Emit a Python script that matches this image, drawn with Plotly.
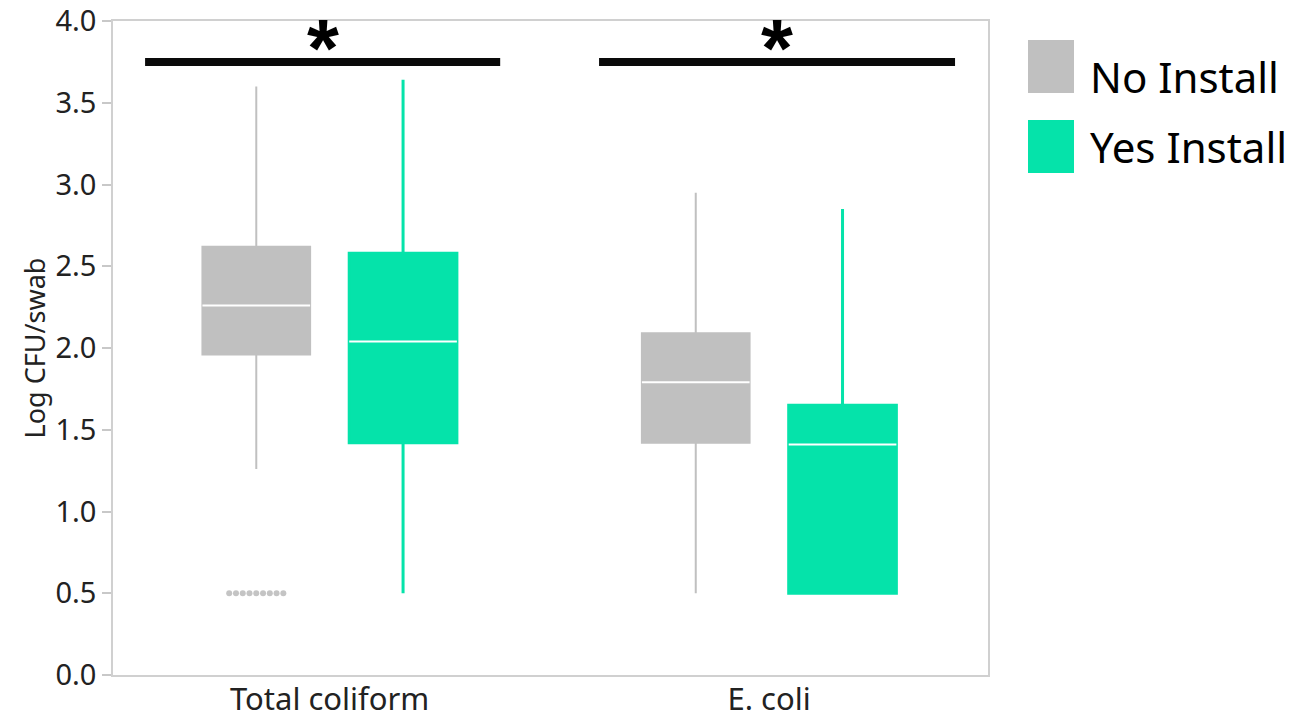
import plotly.graph_objects as go

# Categories and groups
categories = ["Total coliform", "E. coli"]
groups = ["No Install", "Yes Install"]

# Box summaries (Log CFU/swab) for the "No Install" group, per category
no_q1 = [1.96, 1.42]
no_median = [2.26, 1.79]
no_q3 = [2.62, 2.09]
no_lower = [1.26, 0.50]
no_upper = [3.60, 2.95]

# Box summaries for the "Yes Install" group, per category
yes_q1 = [1.42, 0.50]
yes_median = [2.04, 1.41]
yes_q3 = [2.58, 1.65]
yes_lower = [0.50, 0.50]
yes_upper = [3.64, 2.85]

# Outlying observations below the lower whisker (No Install, Total coliform)
no_outliers_total = [0.50, 0.50, 0.50, 0.50, 0.50, 0.50, 0.50, 0.50, 0.50]

# Significance marks drawn above each category
sig_labels = ["*", "*"]

GRAY = "#c0c0c0"
TEAL = "#05e3aa"
FONT = "Noto Sans"

W, H = 1316, 719
M_L, M_R, M_T, M_B = 113, 328, 21, 44

cat_pos = [0, 1]
offset = 0.167
box_w = 0.245

fig = go.Figure()


def add_group(name, q1, med, q3, lo, hi, color, lw, sign):
    xs = [p + sign * offset for p in cat_pos]
    fig.add_trace(go.Box(
        name=name, x=xs, q1=q1, median=med, q3=q3,
        lowerfence=lo, upperfence=hi,
        width=box_w, whiskerwidth=0,
        fillcolor=color, line=dict(color=color, width=lw),
        boxpoints=False, showlegend=False, hoverinfo="skip",
    ))
    # white median line across each box
    mx, my = [], []
    for x, m in zip(xs, med):
        mx += [x - box_w / 2, x + box_w / 2, None]
        my += [m, m, None]
    fig.add_trace(go.Scatter(
        x=mx, y=my, mode="lines", line=dict(color="white", width=2),
        showlegend=False, hoverinfo="skip",
    ))
    return xs


no_x = add_group(groups[0], no_q1, no_median, no_q3, no_lower, no_upper, GRAY, 2, -1)
yes_x = add_group(groups[1], yes_q1, yes_median, yes_q3, yes_lower, yes_upper, TEAL, 3, 1)

# outliers laid side by side around the box centre
n = len(no_outliers_total)
step = 0.0154
fig.add_trace(go.Scatter(
    x=[no_x[0] + (i - (n - 1) / 2) * step for i in range(n)],
    y=no_outliers_total, mode="markers",
    marker=dict(color="#c4c4c4", size=6, line=dict(width=0)),
    showlegend=False, hoverinfo="skip",
))

shapes = []
annotations = []


def px_x(p):
    return (p - M_L) / (W - M_L - M_R)


def px_y(p):
    return 1 - (p - M_T) / (H - M_T - M_B)


# significance bars with asterisks
bar_y = 3.75
bar_spans = [(-0.42, 0.388), (0.613, 1.423)]
for (x0, x1), lab in zip(bar_spans, sig_labels):
    shapes.append(dict(type="line", xref="x", yref="y", x0=x0, x1=x1,
                       y0=bar_y, y1=bar_y, line=dict(color="#0a0a0a", width=8)))
    annotations.append(dict(x=(x0 + x1) / 2, y=px_y(0.5), xref="x", yref="paper",
                            text="<b>" + lab + "</b>", showarrow=False,
                            yanchor="top", borderpad=0,
                            font=dict(family="Liberation Sans", size=82,
                                      color="#000000")))

# legend drawn as swatches with labels
legend_rows = [(40, 93, 76), (120, 173, 147)]
for (t, b, tc), name, color in zip(legend_rows, groups, [GRAY, TEAL]):
    shapes.append(dict(type="rect", xref="paper", yref="paper",
                       x0=px_x(1028), x1=px_x(1074), y0=px_y(b), y1=px_y(t),
                       fillcolor=color, line=dict(width=0)))
    annotations.append(dict(x=px_x(1088), y=px_y(tc),
                            xref="paper", yref="paper", text=name,
                            showarrow=False, xanchor="left", yanchor="middle",
                            font=dict(family=FONT, size=42, color="#000000")))

fig.update_layout(
    width=W, height=H,
    margin=dict(l=M_L, r=M_R, t=M_T, b=M_B, autoexpand=False),
    paper_bgcolor="white", plot_bgcolor="white",
    showlegend=False,
    shapes=shapes, annotations=annotations,
    font=dict(family=FONT, color="#222222"),
)
fig.update_xaxes(
    range=[-0.493, 1.498], tickvals=cat_pos, ticktext=categories,
    showgrid=False, zeroline=False, showline=True, mirror=True,
    linecolor="#d0d0d0", linewidth=1.5, ticks="", automargin=False,
    ticklabelstandoff=-4,
    tickfont=dict(family=FONT, size=31, color="#222222"),
)
fig.update_yaxes(
    range=[0, 4], dtick=0.5, tickformat=".1f",
    showgrid=False, zeroline=False, showline=True, mirror=True,
    linecolor="#d0d0d0", linewidth=1.5, automargin=False,
    ticks="outside", ticklen=9, tickcolor="#c8c8c8", tickwidth=1.5,
    tickfont=dict(family=FONT, size=29, color="#222222"),
    title=dict(text="Log CFU/swab", standoff=2,
               font=dict(family=FONT, size=27, color="#222222")),
)

fig.write_html("out.html")
